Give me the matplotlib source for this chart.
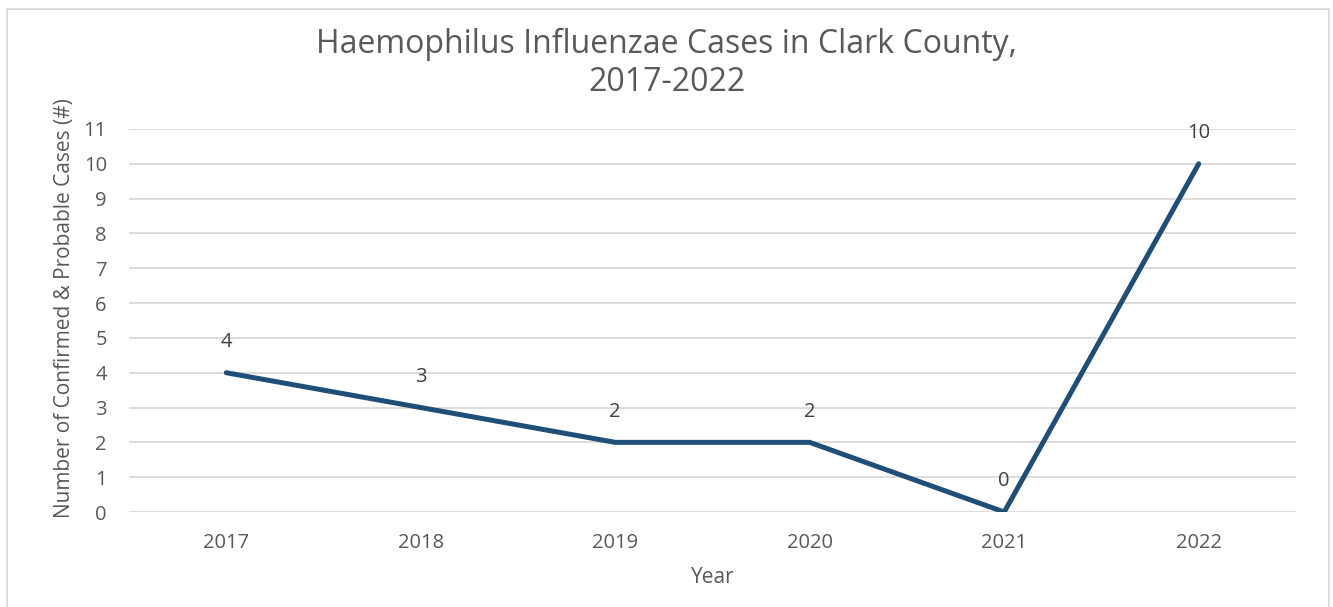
import matplotlib.pyplot as plt
from matplotlib.patches import Rectangle

years = ['2017', '2018', '2019', '2020', '2021', '2022']
cases = [4, 3, 2, 2, 0, 10]
y_ticks = list(range(0, 12))

plt.rcParams['font.family'] = ['Open Sans', 'DejaVu Sans']


def main():
    fig = plt.figure(figsize=(13.33, 6.07), dpi=100)
    ax = fig.add_axes([0.0968, 0.1565, 0.8754, 0.631])

    x_pos = list(range(len(years)))
    ax.plot(x_pos, cases, color='#1f4e79', linewidth=3.6, solid_capstyle='round',
            solid_joinstyle='miter', zorder=3)
    for x, v in zip(x_pos, cases):
        ax.annotate(str(v), (x, v), xytext=(0, 22), textcoords='offset points',
                    ha='center', va='center', fontsize=14.5, color='#404040')

    ax.set_xlim(-0.5, len(years) - 0.5)
    ax.set_ylim(0, 11)
    ax.set_yticks(y_ticks)
    ax.set_xticks(x_pos)
    ax.set_xticklabels(years)
    ax.tick_params(axis='both', length=0, labelsize=14.5, labelcolor='#595959')
    ax.tick_params(axis='x', pad=15)
    ax.tick_params(axis='y', pad=16)
    ax.yaxis.grid(True, color='#d9d9d9', linewidth=1.3)
    ax.set_axisbelow(True)
    for s in ax.spines.values():
        s.set_visible(False)

    ax.set_xlabel('Year', fontsize=15, color='#595959', labelpad=10)
    ax.set_ylabel('Number of Confirmed & Probable Cases (#)', fontsize=15,
                  color='#595959', labelpad=6)
    ax.yaxis.label.set_y(0.533)
    fig.text(0.5, 0.896, 'Haemophilus Influenzae Cases in Clark County,\n2017-2022',
             ha='center', va='center', fontsize=23, color='#595959', linespacing=1.2)

    # light border around the chart
    fig.patches.append(Rectangle((0.005, -0.01), 0.992, 0.995, transform=fig.transFigure,
                                 fill=False, edgecolor='#d9d9d9', linewidth=1.3))

    plt.savefig('out.png', dpi=100)


if __name__ == '__main__':
    main()
